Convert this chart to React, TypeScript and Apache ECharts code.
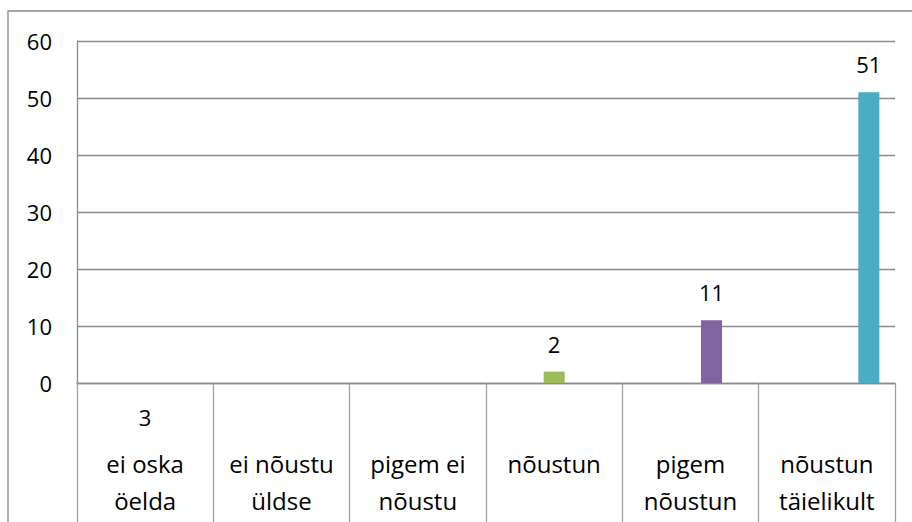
import React, { useEffect, useRef } from "react";
import * as echarts from "echarts";

const categories = ["ei oska\nöelda", "ei nõustu\nüldse", "pigem ei\nnõustu", "nõustun", "pigem\nnõustun", "nõustun\ntäielikult"];
const topNotes = ["3", "", "", "", "", ""];
const seriesNames = ["s1", "s2", "nõustun", "pigem nõustun", "nõustun täielikult"];
const seriesColors = ["#4F81BD", "#C0504D", "#9BBB59", "#8064A2", "#4BACC6"];
const seriesValues: (number | null)[][] = [
  [null, null, null, null, null, null],
  [null, null, null, null, null, null],
  [null, null, null, 2, null, null],
  [null, null, null, null, 11, null],
  [null, null, null, null, null, 51],
];
const yMin = 0;
const yMax = 60;
const yInterval = 10;

const FONT = "Open Sans";
const FS = 22;
const FSC = 24;

export default function App() {
  const ref = useRef<HTMLDivElement>(null);
  useEffect(() => {
    document.body.style.margin = "0";
    const chart = echarts.init(ref.current!, null, { renderer: "svg" });
    chart.setOption({
      animation: false,
      backgroundColor: "#ffffff",
      textStyle: { fontFamily: FONT },
      grid: { left: 77, right: 17, top: 41, bottom: 139, containLabel: false },
      graphic: [
        {
          type: "rect",
          shape: { x: 8, y: 11, width: 1200, height: 1000 },
          style: { fill: "none", stroke: "#8a8a8a", lineWidth: 1.3 },
          silent: true,
        },
      ],
      xAxis: {
        type: "category",
        data: categories,
        axisLine: { show: true, lineStyle: { color: "#8a8a8a", width: 1.3 } },
        axisTick: { show: true, length: 140, lineStyle: { color: "#a0a0a0", width: 1.3 } },
        splitLine: { show: false },
        axisLabel: {
          interval: 0,
          margin: 6,
          color: "#000",
          fontFamily: FONT,
          fontSize: FSC,
          formatter: (v: string, i: number) => {
            const note = topNotes[i] || " ";
            return `{a|${note}}\n` + v.split("\n").map((s) => `{b|${s}}`).join("\n");
          },
          rich: {
            a: { fontFamily: FONT, fontSize: FS, lineHeight: 56, color: "#000" },
            b: { fontFamily: FONT, fontSize: FSC, lineHeight: 37, color: "#000" },
          },
        },
      },
      yAxis: {
        type: "value",
        min: yMin,
        max: yMax,
        interval: yInterval,
        axisLine: { show: true, lineStyle: { color: "#8a8a8a", width: 1.3 } },
        axisTick: { show: false },
        splitLine: { show: true, lineStyle: { color: "#8a8a8a", width: 1.3 } },
        axisLabel: { margin: 25, color: "#000", fontFamily: FONT, fontSize: FS },
      },
      series: seriesNames.map((name, si) => ({
        type: "bar",
        name,
        data: seriesValues[si],
        barWidth: 21,
        barGap: "0%",
        barCategoryGap: "23%",
        itemStyle: { color: seriesColors[si] },
        label: {
          show: true,
          position: "top",
          distance: 17,
          color: "#000",
          fontFamily: FONT,
          fontSize: FS,
        },
      })),
    });
    return () => chart.dispose();
  }, []);
  return <div ref={ref} style={{ width: 912, height: 522 }} />;
}
